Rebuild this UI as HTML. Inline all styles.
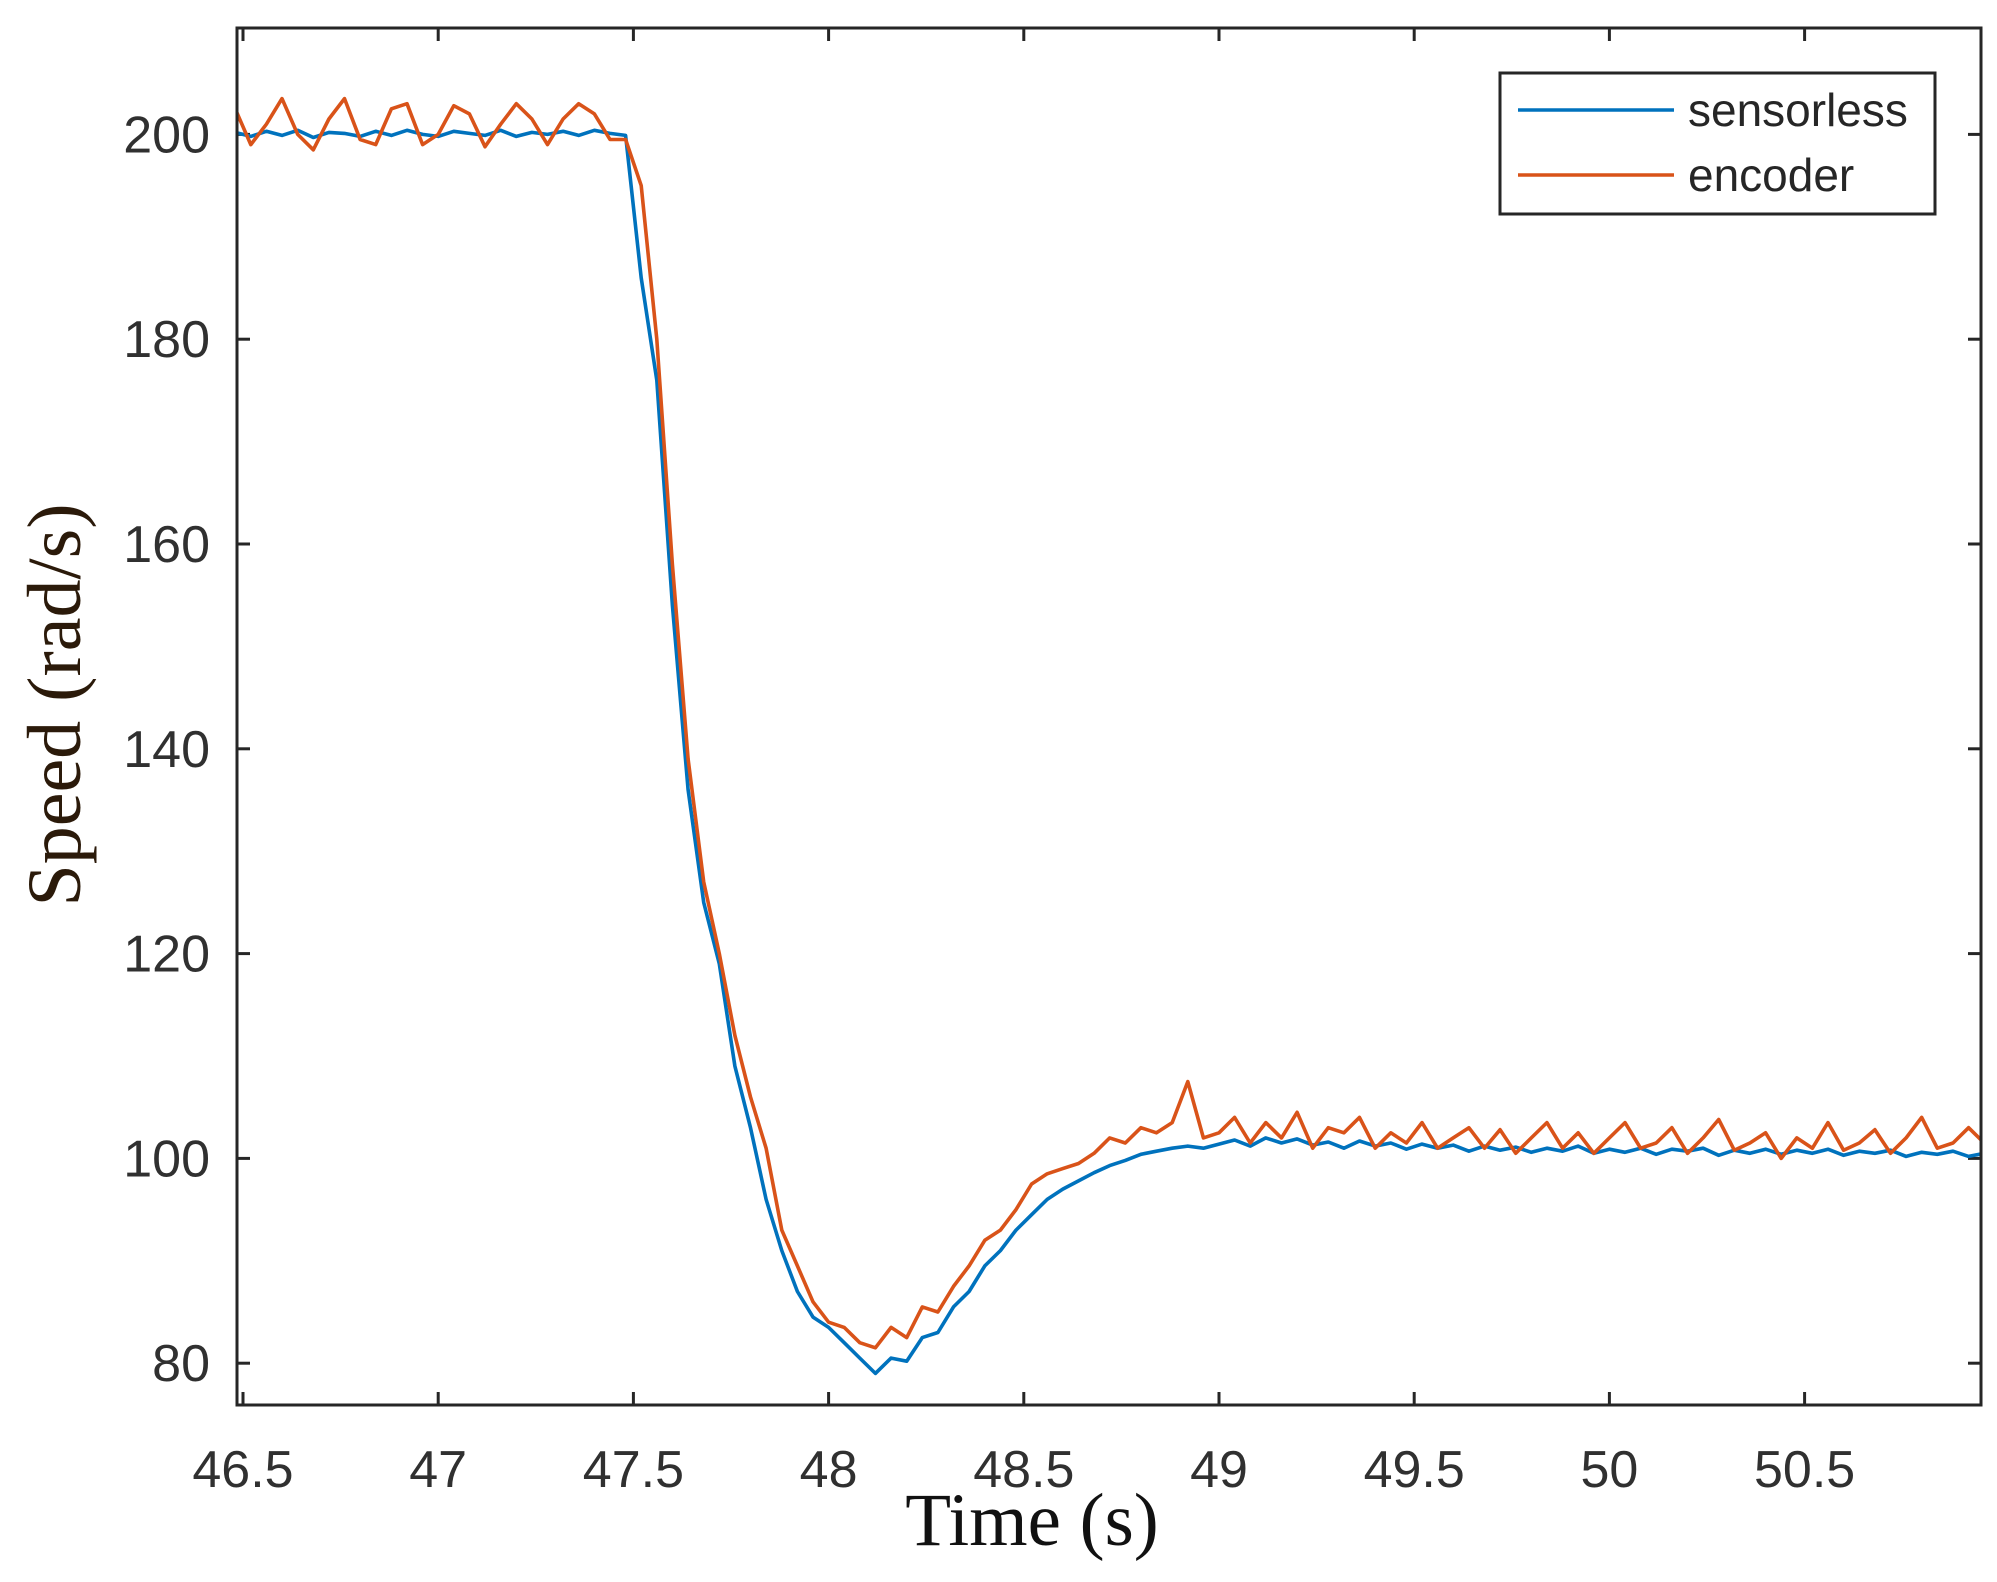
<!DOCTYPE html>
<html><head><meta charset="utf-8"><style>
html,body{margin:0;padding:0;background:#fff}
svg{display:block}
</style></head><body>
<svg id="chart" width="1997" height="1582" viewBox="0 0 1997 1582" xmlns="http://www.w3.org/2000/svg">
<defs><clipPath id="clip"><rect x="237" y="28" width="1744" height="1377"/></clipPath></defs>
<rect x="237" y="28" width="1744" height="1377" fill="#fff"/>
<g id="ticks"></g>
<g id="series" clip-path="url(#clip)"></g>
<rect x="237" y="28" width="1744" height="1377" fill="none" stroke="#262626" stroke-width="3"/>
<text x="1032" y="1545" font-family="Liberation Serif, serif" font-size="75" text-anchor="middle" fill="#111">Time (s)</text>
<text transform="translate(80,705) rotate(-90)" font-family="Liberation Serif, serif" font-size="76" text-anchor="middle" fill="#2b1a0a">Speed (rad/s)</text>
<g>
<rect x="1500" y="73" width="435" height="141" fill="#fff" stroke="#262626" stroke-width="3"/>
<line x1="1518" y1="110" x2="1674" y2="110" stroke="#0072BD" stroke-width="3.5"/>
<text x="1688" y="126" font-family="Liberation Sans, sans-serif" font-size="46" fill="#262626">sensorless</text>
<line x1="1518" y1="175" x2="1674" y2="175" stroke="#D95319" stroke-width="3.5"/>
<text x="1688" y="191" font-family="Liberation Sans, sans-serif" font-size="46" fill="#262626">encoder</text>
</g>
</svg>
<script>
const xTicks = [46.5,47,47.5,48,48.5,49,49.5,50,50.5];
const xTickLabels = ["46.5","47","47.5","48","48.5","49","49.5","50","50.5"];
const yTicks = [80,100,120,140,160,180,200];
const yTickLabels = ["80","100","120","140","160","180","200"];
const time = [46.48,46.52,46.56,46.60,46.64,46.68,46.72,46.76,46.80,46.84,46.88,46.92,46.96,47.00,47.04,47.08,47.12,47.16,47.20,47.24,47.28,47.32,47.36,47.40,47.44,47.48,
47.52,47.56,47.60,47.64,47.68,47.72,47.76,47.80,47.84,47.88,47.92,47.96,48.00,48.04,48.08,48.12,48.16,48.20,48.24,48.28,48.32,48.36,48.40,48.44,48.48,48.52,48.56,48.60,48.64,48.68,48.72,48.76,48.80,48.84,48.88,48.92,48.96,49.00,
49.04,49.08,49.12,49.16,49.20,49.24,49.28,49.32,49.36,49.40,49.44,49.48,49.52,49.56,49.60,49.64,49.68,49.72,49.76,49.80,49.84,49.88,49.92,49.96,50.00,50.04,50.08,50.12,50.16,50.20,50.24,50.28,50.32,50.36,50.40,50.44,50.48,50.52,50.56,50.60,50.64,50.68,50.72,50.76,50.80,50.84,50.88,50.92,50.96];
const sensorless = [200.2,199.8,200.3,199.9,200.4,199.7,200.2,200.1,199.8,200.3,199.9,200.4,200.0,199.8,200.3,200.1,199.9,200.4,199.8,200.2,200.0,200.3,199.9,200.4,200.1,199.9,
186,176,154,136,125,119,109,103,96,91,87,84.5,83.5,82,80.5,79,80.5,80.2,82.5,83,85.5,87,89.5,91,93,94.5,96,97,97.8,98.6,99.3,99.8,100.4,100.7,101,101.2,101,101.4,
101.8,101.2,102,101.5,101.9,101.3,101.6,101.0,101.7,101.2,101.5,100.9,101.4,101.0,101.3,100.7,101.2,100.8,101.1,100.6,101.0,100.7,101.2,100.5,100.9,100.6,101.0,100.4,100.9,100.7,101.0,100.3,100.8,100.5,100.9,100.4,100.8,100.5,100.9,100.3,100.7,100.5,100.8,100.2,100.6,100.4,100.7,100.2,100.5];
const encoder = [202.5,199,201,203.5,200,198.5,201.5,203.5,199.5,199,202.5,203,199,200,202.8,202,198.8,201,203,201.5,199,201.5,203,202,199.5,199.5,
195,180,158,139,127,120,112,106,101,93,89.5,86,84,83.5,82,81.5,83.5,82.5,85.5,85,87.5,89.5,92,93,95,97.5,98.5,99,99.5,100.5,102,101.5,103,102.5,103.5,107.5,102,102.5,
104,101.5,103.5,102,104.5,101,103,102.5,104,101,102.5,101.5,103.5,101,102,103,101,102.8,100.5,102,103.5,101,102.5,100.5,102,103.5,101,101.5,103,100.5,102,103.8,100.8,101.5,102.5,100,102,101,103.5,100.8,101.5,102.8,100.5,102,104,101,101.5,103,101.5];

const NS='http://www.w3.org/2000/svg';
function xScale(t){return 243+(t-46.5)*390.4;}
function yScale(v){return 134.4+(200-v)*10.24;}
const tickG=document.getElementById('ticks');
const X0=237,X1=1981,Y0=28,Y1=1405,TL=13;
function mk(tag,attrs){const e=document.createElementNS(NS,tag);for(const k in attrs)e.setAttribute(k,attrs[k]);return e;}
xTicks.forEach((t,i)=>{
  const x=xScale(t);
  const a=mk('line',{x1:x,y1:Y1,x2:x,y2:Y1-TL,stroke:'#262626','stroke-width':3});
  
  
  tickG.appendChild(a);
  const b=mk('line',{x1:x,y1:Y0,x2:x,y2:Y0+TL,stroke:'#262626','stroke-width':3});
  
  
  tickG.appendChild(b);
  const l=mk('text',{x:x,y:1487,'font-family':'Liberation Sans, sans-serif','font-size':52,'text-anchor':'middle',fill:'#303030'});
  l.textContent=xTickLabels[i];
  
  
  tickG.appendChild(l);
});
yTicks.forEach((v,i)=>{
  const y=yScale(v);
  const a=mk('line',{x1:X0,y1:y,x2:X0+TL,y2:y,stroke:'#262626','stroke-width':3});
  
  
  tickG.appendChild(a);
  const b=mk('line',{x1:X1,y1:y,x2:X1-TL,y2:y,stroke:'#262626','stroke-width':3});
  
  
  tickG.appendChild(b);
  const l=mk('text',{x:210,y:y+18,'font-family':'Liberation Sans, sans-serif','font-size':52,'text-anchor':'end',fill:'#303030'});
  l.textContent=yTickLabels[i];
  
  
  tickG.appendChild(l);
});
const sg=document.getElementById('series');
function addLine(vals,color,name){
  const d=vals.map((v,i)=>(i?'L':'M')+xScale(time[i]).toFixed(1)+' '+yScale(v).toFixed(1)).join(' ');
  const p=mk('path',{d:d,fill:'none',stroke:color,'stroke-width':3.6,'stroke-linejoin':'round'});
  
  
  sg.appendChild(p);
}
addLine(sensorless,'#0072BD','sensorless-line');
addLine(encoder,'#D95319','encoder-line');
</script>
</body></html>
